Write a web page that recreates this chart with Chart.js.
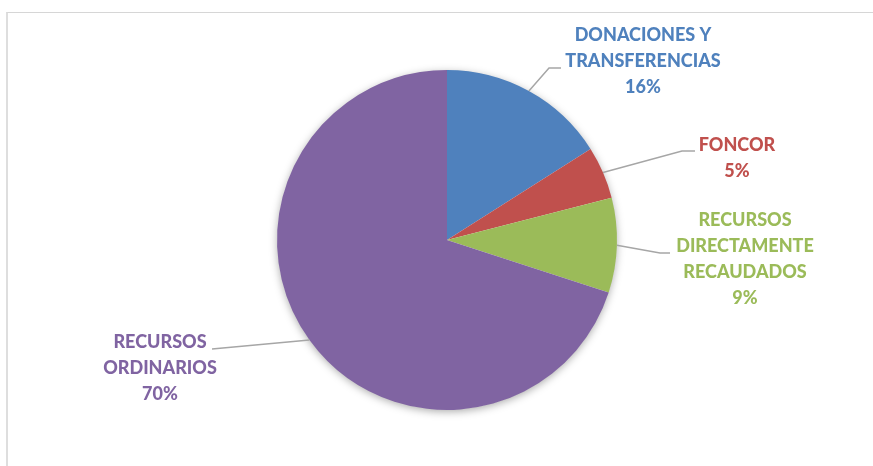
<!DOCTYPE html>
<html>
<head>
<meta charset="utf-8">
<script src="https://cdn.jsdelivr.net/npm/chart.js@4/dist/chart.umd.min.js"></script>
<style>
  html, body { margin: 0; padding: 0; background: #ffffff; overflow: hidden; }
  #wrap { position: relative; width: 873px; height: 466px; }
  #frame { position: absolute; left: 6px; top: 12px; width: 900px; height: 500px;
           border-top: 1px solid #d6d6d6; border-left: 2px solid #dedede; box-sizing: border-box; }
  canvas { position: absolute; left: 0; top: 0; }
</style>
</head>
<body>
<div id="wrap">
  <div id="frame"></div>
  <canvas id="c" width="873" height="466"></canvas>
</div>
<script>
// ---- Data ----
const categories = ["DONACIONES Y TRANSFERENCIAS", "FONCOR", "RECURSOS DIRECTAMENTE RECAUDADOS", "RECURSOS ORDINARIOS"];
const labelLines = [
  ["DONACIONES Y", "TRANSFERENCIAS"],
  ["FONCOR"],
  ["RECURSOS", "DIRECTAMENTE", "RECAUDADOS"],
  ["RECURSOS", "ORDINARIOS"]
];
const values = [16, 5, 9, 70];

// ---- Styles / layout (not data) ----
const colors = ["#4F81BD", "#C0504D", "#9BBB59", "#8064A2"];
const labelLayout = [
  { cx: 643, y0: 35.5, elbow: [549, 68], end: [561, 68] },
  { cx: 737, y0: 145,  elbow: [682, 151], end: [695, 151] },
  { cx: 745, y0: 220.5, elbow: [660, 253], end: [670, 253] },
  { cx: 160, y0: 342,  elbow: [212, 349], end: [212, 349] }
];
const lineGap = 26;
const labelFont = "900 18px Lato, 'Open Sans', 'DejaVu Sans', sans-serif";

const shadowPlugin = {
  id: 'pieShadow',
  beforeDatasetsDraw(chart) {
    const arc = chart.getDatasetMeta(0).data[0];
    if (!arc) return;
    const ctx = chart.ctx;
    ctx.save();
    ctx.shadowColor = 'rgba(0,0,0,0.35)';
    ctx.shadowBlur = 9;
    ctx.shadowOffsetX = 0;
    ctx.shadowOffsetY = 2;
    ctx.fillStyle = '#ffffff';
    ctx.beginPath();
    ctx.arc(arc.x, arc.y, arc.outerRadius - 0.5, 0, Math.PI * 2);
    ctx.fill();
    ctx.restore();
  }
};

const labelPlugin = {
  id: 'pieLabels',
  afterDatasetsDraw(chart) {
    const ctx = chart.ctx;
    const meta = chart.getDatasetMeta(0);
    const data = chart.data.datasets[0].data;
    const total = data.reduce((a, b) => a + b, 0);
    meta.data.forEach((arc, i) => {
      const lay = labelLayout[i];
      const mid = (arc.startAngle + arc.endAngle) / 2;
      const sx = arc.x + Math.cos(mid) * arc.outerRadius;
      const sy = arc.y + Math.sin(mid) * arc.outerRadius;
      ctx.save();
      ctx.strokeStyle = '#a6a6a6';
      ctx.lineWidth = 1.5;
      ctx.beginPath();
      ctx.moveTo(sx, sy);
      ctx.lineTo(lay.elbow[0], lay.elbow[1]);
      ctx.lineTo(lay.end[0], lay.end[1]);
      ctx.stroke();
      ctx.fillStyle = colors[i];
      ctx.font = labelFont;
      ctx.textAlign = 'center';
      ctx.textBaseline = 'middle';
      const lines = labelLines[i].concat([Math.round(data[i] / total * 100) + '%']);
      lines.forEach((t, k) => ctx.fillText(t, lay.cx, lay.y0 + k * lineGap));
      ctx.restore();
    });
  }
};

new Chart(document.getElementById('c'), {
  type: 'pie',
  data: {
    labels: categories,
    datasets: [{
      data: values,
      backgroundColor: colors,
      borderWidth: 0,
      hoverOffset: 0
    }]
  },
  options: {
    responsive: false,
    animation: false,
    layout: { padding: { top: 70, bottom: 56, left: 21, right: 0 } },
    plugins: { legend: { display: false }, tooltip: { enabled: false } }
  },
  plugins: [shadowPlugin, labelPlugin]
});
</script>
</body>
</html>
